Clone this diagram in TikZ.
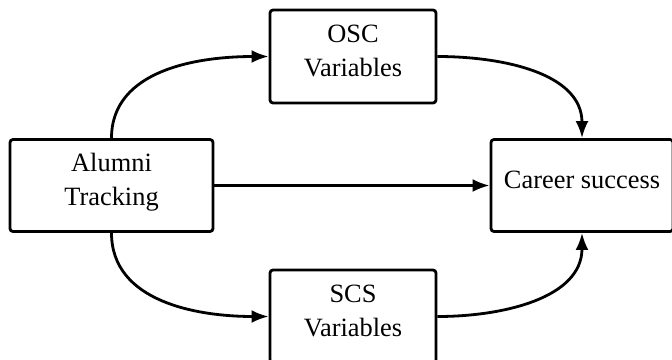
\documentclass[tikz,border=0pt]{standalone}
\usepackage{fontspec}
\setmainfont{Liberation Serif}
\usetikzlibrary{arrows.meta}

\tikzset{
    box/.style={draw, line width=1.4pt, rounded corners=1.5pt, align=center, inner sep=0pt,
        text depth=6pt, font=\fontsize{13.2}{17}\selectfont},
    link/.style={line width=1.4pt, -{Latex[length=8.5pt,width=6.5pt]}}
}

\begin{document}
\begin{tikzpicture}[x=0.5pt,y=0.5pt]
    \useasboundingbox (0,0) rectangle (672,-359);

    \node[box, minimum width=101.5pt, minimum height=46pt] (track) at (111.5,-185.5) {Alumni\\Tracking};
    \node[box, minimum width=83pt, minimum height=46.5pt] (osc) at (353,-56.5) {OSC\\Variables};
    \node[box, minimum width=83pt, minimum height=46.5pt] (scs) at (353,-316.5) {SCS\\Variables};
    \node[box, minimum width=91pt, minimum height=46pt] (career) at (582,-185.5) {Career success};

    \draw[link] (track.north) to[out=90,in=180] (osc.west);
    \draw[link] (osc.east) to[out=0,in=90] (career.north);
    \draw[link] (track.east) -- (career.west);
    \draw[link] (track.south) to[out=-90,in=180] (scs.west);
    \draw[link] (scs.east) to[out=0,in=-90] (career.south);
\end{tikzpicture}
\end{document}
